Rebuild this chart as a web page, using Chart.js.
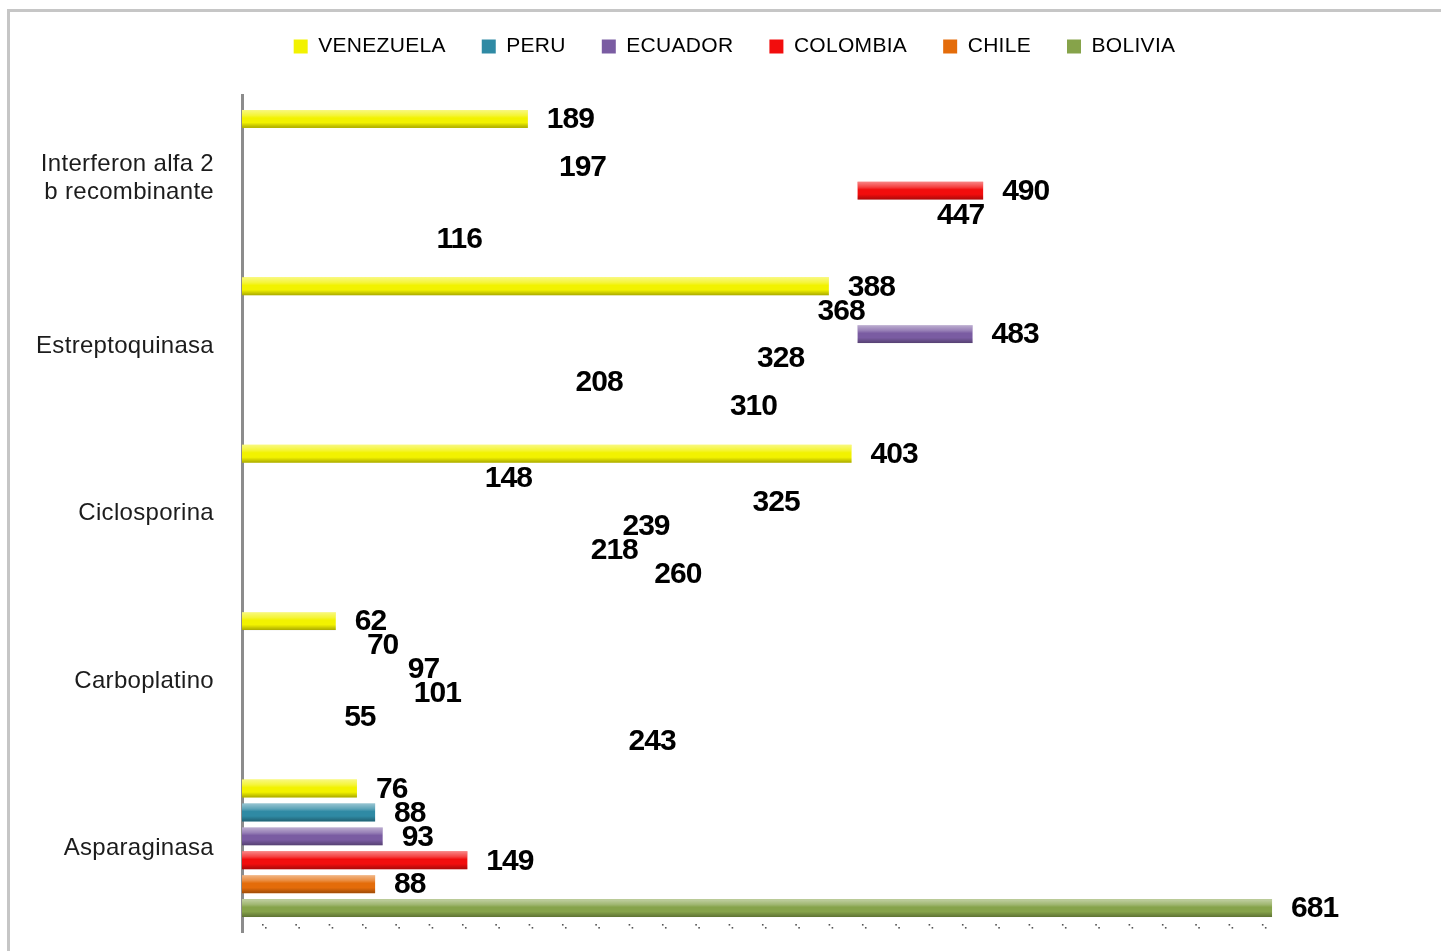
<!DOCTYPE html>
<html><head><meta charset="utf-8">
<script src="https://cdn.jsdelivr.net/npm/chart.js@4"></script>
<style>
html,body{margin:0;padding:0;background:#fff;overflow:hidden;width:1441px;height:951px;}
#frame{position:absolute;left:7px;top:9px;width:1500px;height:1000px;border:3px solid #c6c6c6;box-sizing:border-box;}
#c{position:absolute;left:0;top:0;}
</style></head><body>
<div id="frame"></div>
<canvas id="c" width="1469" height="951"></canvas>
<script>
const categories = [['Interferon alfa 2', 'b recombinante'], 'Estreptoquinasa', 'Ciclosporina', 'Carboplatino', 'Asparaginasa'];
const seriesNames = ['VENEZUELA', 'PERU', 'ECUADOR', 'COLOMBIA', 'CHILE', 'BOLIVIA'];
const venezuela = [189, 388, 403, 62, 76];
const peru      = [null, 368, 148, 70, 88];
const ecuador   = [197, 483, 325, 97, 93];
const colombia  = [490, 328, 239, 101, 149];
const chile     = [447, 208, 218, 55, 88];
const bolivia   = [116, 310, 260, 243, 681];
// bars actually painted in the source picture (the others only show their value)
const venezuelaShown = [true, true, true, true, true];
const peruShown      = [false, false, false, false, true];
const ecuadorShown   = [false, true, false, false, true];
const colombiaShown  = [true, false, false, false, true];
const chileShown     = [false, false, false, false, true];
const boliviaShown   = [false, false, false, false, true];
// value where the painted part starts, for the bars that are only painted near their end
const ecuadorFrom  = [null, 407, null, null, null];
const colombiaFrom = [407, null, null, null, null];
const noFrom = [null, null, null, null, null];

const seriesValues = [venezuela, peru, ecuador, colombia, chile, bolivia];
const seriesShown = [venezuelaShown, peruShown, ecuadorShown, colombiaShown, chileShown, boliviaShown];
const seriesFrom = [noFrom, noFrom, ecuadorFrom, colombiaFrom, noFrom, noFrom];
const seriesColors = ['#f2f200', '#2f8aa4', '#7a5ca2', '#f20d0d', '#e46c0a', '#86a34a'];

const FONT = '"Liberation Sans", Arial, sans-serif';

const datasets = seriesNames.map((name, d) => ({
  label: name,
  data: seriesValues[d].map((v, i) => (v != null && seriesFrom[d][i] != null) ? [seriesFrom[d][i], v] : v),
  backgroundColor: (c) => (c.type === 'data' && !seriesShown[d][c.dataIndex]) ? 'rgba(0,0,0,0)' : seriesColors[d],
  borderWidth: 0,
  categoryPercentage: 0.857,
  barPercentage: 0.75
}));

const spacingPlugin = {
  id: 'spacing',
  beforeUpdate(chart) { chart.ctx.letterSpacing = '0.3px'; },
  beforeDraw(chart) { chart.ctx.letterSpacing = '0.3px'; }
};

const barLook = {
  id: 'barLook',
  afterDatasetsDraw(chart) {
    const ctx = chart.ctx;
    ctx.save();
    seriesValues.forEach((vals, d) => {
      const meta = chart.getDatasetMeta(d);
      vals.forEach((v, i) => {
        if (v == null || !seriesShown[d][i]) return;
        const el = meta.data[i];
        const p = el.getProps(['x', 'y', 'base', 'height'], true);
        const l = Math.min(p.x, p.base), r = Math.max(p.x, p.base), t = p.y - p.height / 2;
        const g = ctx.createLinearGradient(0, t, 0, t + p.height);
        g.addColorStop(0, 'rgba(255,255,255,0.5)');
        g.addColorStop(0.3, 'rgba(255,255,255,0.22)');
        g.addColorStop(0.45, 'rgba(255,255,255,0)');
        g.addColorStop(0.7, 'rgba(0,0,0,0)');
        g.addColorStop(1, 'rgba(0,0,0,0.3)');
        ctx.fillStyle = g;
        ctx.fillRect(l, t, r - l, p.height);
      });
    });
    // value labels
    const xs = chart.scales.x;
    ctx.letterSpacing = '-1px';
    ctx.font = 'bold 30px ' + FONT;
    ctx.fillStyle = '#000';
    ctx.textBaseline = 'middle';
    ctx.textAlign = 'left';
    seriesValues.forEach((vals, d) => {
      const meta = chart.getDatasetMeta(d);
      vals.forEach((v, i) => {
        if (v == null) return;
        const el = meta.data[i];
        ctx.fillText(String(v), xs.getPixelForValue(v) + 19, el.y + 1);
      });
    });
    ctx.restore();
  },
  afterDraw(chart) {
    const ctx = chart.ctx, a = chart.chartArea, xs = chart.scales.x;
    ctx.save();
    ctx.fillStyle = '#555';
    const y = a.bottom - 8;
    const end = xs.getPixelForValue(681);
    for (let x = a.left + 20; x <= end; x += 33.33) {
      ctx.fillRect(x, y, 1.6, 1.6);
      ctx.fillRect(x + 3, y + 3, 1.6, 1.6);
    }
    ctx.restore();
  }
};

new Chart(document.getElementById('c'), {
  type: 'bar',
  data: { labels: categories, datasets },
  plugins: [spacingPlugin, barLook],
  options: {
    indexAxis: 'y',
    responsive: false,
    animation: false,
    devicePixelRatio: 1,
    layout: { padding: { left: 20, right: 20, top: 0, bottom: 19 } },
    plugins: {
      tooltip: { enabled: false },
      legend: {
        position: 'top',
        weight: 3000,
        labels: {
          boxWidth: 14, boxHeight: 14, padding: 36, color: '#000',
          font: { family: FONT, size: 21 },
          generateLabels: () => seriesNames.map((n, d) => ({
            text: n, fillStyle: seriesColors[d], strokeStyle: seriesColors[d],
            lineWidth: 0, hidden: false, datasetIndex: d, fontColor: '#000'
          }))
        }
      },
      title: { display: true, text: '', padding: 0, font: { size: 28, lineHeight: 1 } }
    },
    scales: {
      x: { type: 'linear', min: 0, max: 798, display: false },
      y: {
        type: 'category',
        grid: { display: false, drawTicks: false },
        border: { display: true, color: '#8c8c8c', width: 3 },
        ticks: { padding: 28, color: '#1c1c1c', font: { family: FONT, size: 24, lineHeight: 1.17 } },
        afterFit(s) { s.width = 222; s.paddingTop = 0; s.paddingBottom = 0; }
      }
    }
  }
});
</script>
</body></html>
